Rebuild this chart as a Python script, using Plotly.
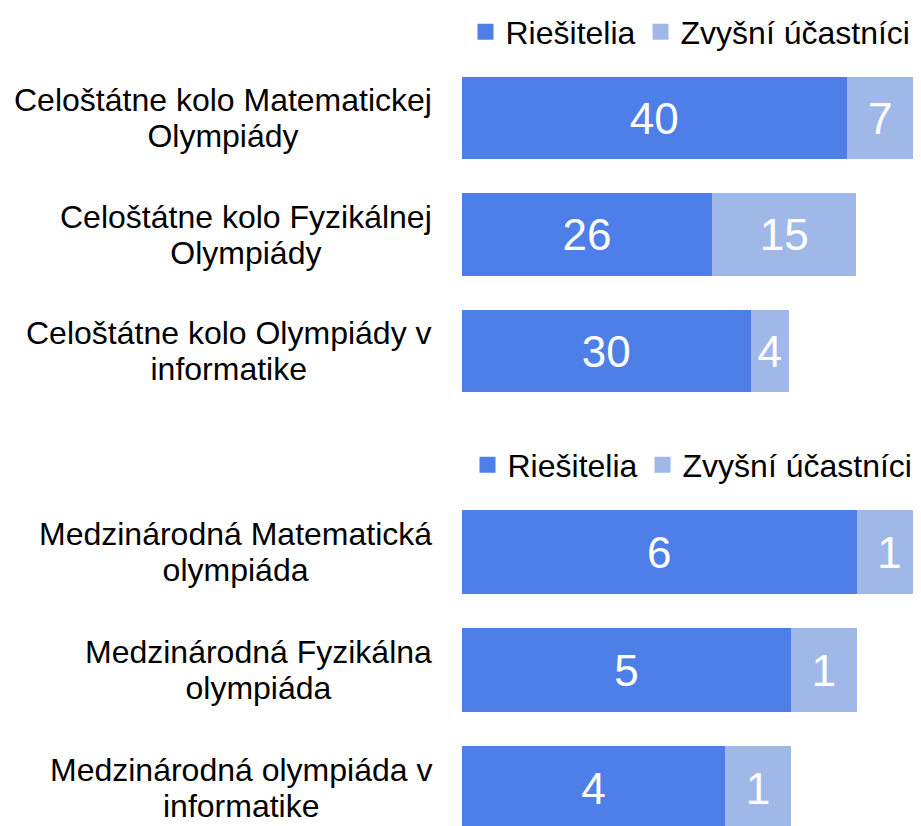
import plotly.graph_objects as go

# Data
national_categories = [
    "Celoštátne kolo Matematickej<br>Olympiády",
    "Celoštátne kolo Fyzikálnej<br>Olympiády",
    "Celoštátne kolo Olympiády v<br>informatike",
]
national_solvers = [40, 26, 30]
national_others = [7, 15, 4]

intl_categories = [
    "Medzinárodná Matematická<br>olympiáda",
    "Medzinárodná Fyzikálna<br>olympiáda",
    "Medzinárodná olympiáda v<br>informatike",
]
intl_solvers = [6, 5, 4]
intl_others = [1, 1, 1]

series_names = ["Riešitelia", "Zvyšní účastníci"]

DARK = "#4E7FE8"
LIGHT = "#A0B8E8"
FONT = "Liberation Sans, Arial, sans-serif"

W, H = 913, 818

def py(p):
    return 1 - p / H

fig = go.Figure()

def add_pair(cats, solvers, others, xa, ya, leg):
    for name, vals, col in [(series_names[0], solvers, DARK), (series_names[1], others, LIGHT)]:
        fig.add_trace(go.Bar(
            y=cats, x=vals, name=name, orientation="h",
            marker=dict(color=col, line=dict(width=0)),
            text=[str(v) for v in vals], textposition="inside",
            insidetextanchor="middle", constraintext="none",
            textfont=dict(color="white", size=44, family=FONT),
            xaxis=xa, yaxis=ya, showlegend=False, hoverinfo="skip",
        ))
    # legend entries with larger square swatches
    for name, col in [(series_names[0], DARK), (series_names[1], LIGHT)]:
        fig.add_trace(go.Scatter(
            x=[None], y=[None], mode="markers", name=name,
            marker=dict(symbol="square", size=16, color=col),
            xaxis=xa, yaxis=ya, legend=leg, showlegend=True, hoverinfo="skip",
        ))

add_pair(national_categories, national_solvers, national_others, "x", "y", "legend")
add_pair(intl_categories, intl_solvers, intl_others, "x2", "y2", "legend2")

annotations = []
for cats, yref in [(national_categories, "y"), (intl_categories, "y2")]:
    for c in cats:
        annotations.append(dict(
            text='<span style="font-size:32px">' + c.replace("<br>", '</span><br><span style="font-size:32px">') + "</span>",
            xref="paper", x=0.4666, xanchor="right", yref=yref, y=c,
            yanchor="middle", align="center", showarrow=False,
            font=dict(size=27.7, color="black", family=FONT),
        ))

axis_common = dict(showgrid=False, zeroline=False, showticklabels=False, showline=False, ticks="")
XDOM = [454 / W, 1]

fig.update_layout(
    width=W, height=H,
    margin=dict(l=0, r=0, t=0, b=0, autoexpand=False),
    paper_bgcolor="white", plot_bgcolor="white",
    barmode="stack", bargap=0.29,
    font=dict(family=FONT, color="black"),
    xaxis=dict(domain=XDOM, range=[0, 47.73], anchor="y", **axis_common),
    yaxis=dict(domain=[py(401.25), py(51.75)], range=[2.5, -0.5], anchor="x", **axis_common),
    xaxis2=dict(domain=XDOM, range=[0, 6.978], anchor="y2", **axis_common),
    yaxis2=dict(domain=[0, py(485)], range=[(H - 485) / 118 - 0.5, -0.5], anchor="x2", **axis_common),
    legend=dict(orientation="h", x=0.5011, xanchor="left", y=py(24), yanchor="middle",
                font=dict(size=32, family=FONT, color="black"), traceorder="normal",
                bgcolor="rgba(0,0,0,0)"),
    legend2=dict(orientation="h", x=0.5033, xanchor="left", y=py(457), yanchor="middle",
                 font=dict(size=32, family=FONT, color="black"), traceorder="normal",
                 bgcolor="rgba(0,0,0,0)"),
    annotations=annotations,
    showlegend=True,
)

fig.write_html("out.html")
